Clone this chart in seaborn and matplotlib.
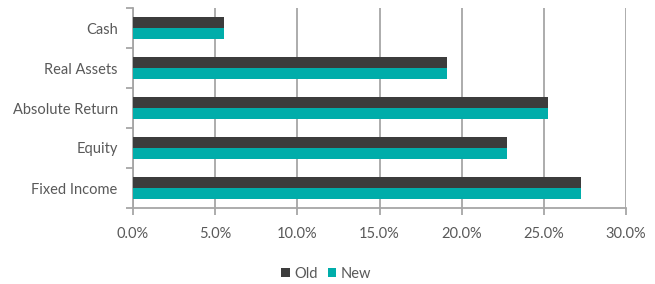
import pandas as pd
import matplotlib.pyplot as plt
import matplotlib.ticker as mticker
import seaborn as sns

categories = ['Cash', 'Real Assets', 'Absolute Return', 'Equity', 'Fixed Income']
old = [5.56, 19.13, 25.28, 22.78, 27.25]
new = [5.56, 19.13, 25.28, 22.78, 27.25]

df = pd.DataFrame({
    'Category': categories * 2,
    'Value': old + new,
    'Series': ['Old'] * len(categories) + ['New'] * len(categories),
})

sns.set_style('white')
plt.rcParams['font.family'] = ['Lato', 'DejaVu Sans']

grey = '#A6A6A6'
text_c = '#595959'

fig = plt.figure(figsize=(6.55, 2.84), dpi=100)
ax = fig.add_axes([133 / 655, 1 - 208 / 284, (626 - 133) / 655, 200 / 284])

sns.barplot(data=df, y='Category', x='Value', hue='Series', orient='h',
            palette={'Old': '#3C3C3C', 'New': '#00ADAA'}, width=0.57,
            saturation=1, linewidth=0, ax=ax, zorder=3)

ax.set_xlim(0, 30)
ax.set_ylim(4.5, -0.5)
ax.xaxis.set_major_locator(mticker.MultipleLocator(5))
ax.xaxis.set_major_formatter(mticker.FuncFormatter(lambda v, p: f'{v:.1f}%'))
ax.grid(axis='x', color=grey, linewidth=1.3, zorder=0)
ax.set_axisbelow(True)
ax.set_xlabel('')
ax.set_ylabel('')

for s in ['top', 'right']:
    ax.spines[s].set_visible(False)
for s in ['left', 'bottom']:
    ax.spines[s].set_color(grey)
    ax.spines[s].set_linewidth(1.3)

ax.tick_params(axis='x', which='major', direction='out', length=5, width=1.3,
               color=grey, labelcolor=text_c, labelsize=10.5, pad=9, bottom=True)
ax.tick_params(axis='y', which='major', length=0, labelcolor=text_c,
               labelsize=10.5, pad=11)
ax.set_yticks([-0.5, 0.5, 1.5, 2.5, 3.5, 4.5], minor=True)
ax.tick_params(axis='y', which='minor', direction='out', length=5, width=1.3,
               color=grey, left=True)

ax.legend_.remove()
handles, labels = ax.get_legend_handles_labels()
fig.legend(handles, labels, loc='center', bbox_to_anchor=(326 / 655, 1 - 274 / 284),
           ncol=2, frameon=False, handlelength=0.6, handleheight=0.6,
           handletextpad=0.3, columnspacing=0.7, fontsize=10.5,
           labelcolor=text_c)

fig.savefig('out.png', dpi=100)
